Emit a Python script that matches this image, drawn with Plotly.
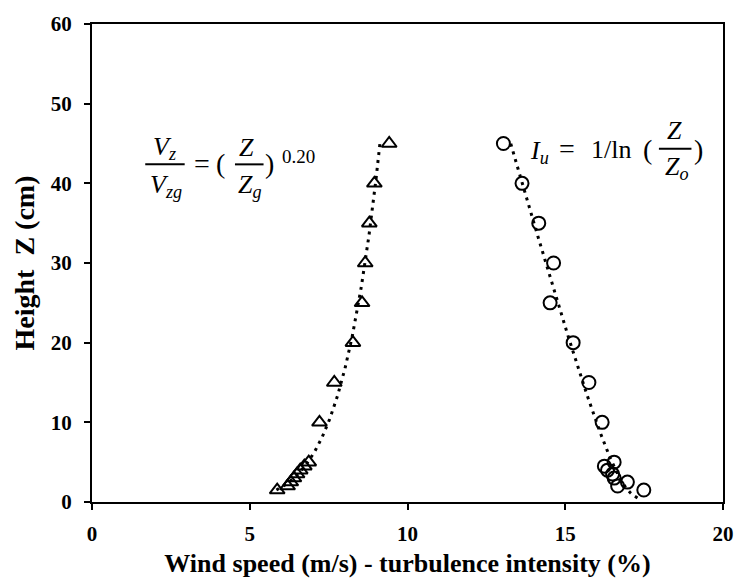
import numpy as np
import plotly.graph_objects as go

# ---- data ----
heights = [45, 40, 35, 30, 25, 20, 15, 10, 5, 4.5, 4, 3.5, 3, 2.5, 2, 1.5]
wind_speed = [9.42, 8.95, 8.79, 8.66, 8.56, 8.27, 7.68, 7.21, 6.87, 6.73, 6.60, 6.50, 6.40, 6.30, 6.20, 5.87]
turb_intensity = [13.04, 13.63, 14.16, 14.63, 14.52, 15.25, 15.75, 16.17, 16.55, 16.24, 16.34, 16.50, 16.55, 16.97, 16.66, 17.49]

x_ticks = [0, 5, 10, 15, 20]
y_ticks = [0, 10, 20, 30, 40, 50, 60]
ti_trend_z_bottom = 0.5  # intensity trendline is extended slightly below the lowest point

FONT = "Liberation Serif"

# ---- trendlines fitted from the data (as functions of height) ----
zz = np.array(heights, dtype=float)
ws = np.array(wind_speed)
ti = np.array(turb_intensity)

# power law: V = a * Z^b
b, a = np.polyfit(np.log(zz), np.log(ws), 1)
z_ws = np.linspace(zz.min(), zz.max(), 300)
ws_line = np.exp(a) * z_ws ** b

# turbulence intensity: I = c0 + c1*Z + c2*ln(Z)
A = np.column_stack([np.ones_like(zz), zz, np.log(zz)])
coef, *_ = np.linalg.lstsq(A, ti, rcond=None)
z_ti = np.linspace(ti_trend_z_bottom, zz.max(), 300)
ti_line = coef[0] + coef[1] * z_ti + coef[2] * np.log(z_ti)

fig = go.Figure()
dot_line = dict(color="black", width=3, dash="3px,5px")
fig.add_trace(go.Scatter(x=ws_line, y=z_ws, mode="lines", line=dot_line,
                         showlegend=False, hoverinfo="skip"))
fig.add_trace(go.Scatter(x=ti_line, y=z_ti, mode="lines", line=dot_line,
                         showlegend=False, hoverinfo="skip"))
fig.add_trace(go.Scatter(x=wind_speed, y=heights, mode="markers", name="Wind speed",
                         marker=dict(symbol="triangle-up-open", size=13, color="black",
                                     line=dict(width=2, color="black")),
                         showlegend=False))
fig.add_trace(go.Scatter(x=turb_intensity, y=heights, mode="markers", name="Turbulence intensity",
                         marker=dict(symbol="circle-open", size=13, color="black",
                                     line=dict(width=2, color="black")),
                         showlegend=False))

# ---- layout geometry ----
W, H = 746, 586
L, R, T, B = 92, 14, 15, 84
pw, ph = W - L - R, H - T - B
XR, YR = [0, 20], [0, 60]


def px2d(px, py):
    return (XR[0] + (px - L) / pw * (XR[1] - XR[0]),
            YR[0] + (T + ph - py) / ph * (YR[1] - YR[0]))


annos = []
shapes = []
EQ = 26


def text(px, py, s, size=EQ, xanchor="center"):
    x, y = px2d(px, py)
    annos.append(dict(x=x, y=y, xref="x", yref="y", text=s, showarrow=False,
                      xanchor=xanchor, yanchor="middle",
                      font=dict(family=FONT, size=size, color="black")))


def bar(px0, px1, py):
    x0, y0 = px2d(px0, py)
    x1, _ = px2d(px1, py)
    shapes.append(dict(type="line", xref="x", yref="y", x0=x0, x1=x1, y0=y0, y1=y0,
                       line=dict(color="black", width=2)))


# left equation: Vz/Vzg = (Z/Zg)^0.20
text(166, 141, "<i>V<sub>z</sub></i>")
bar(146, 186, 158)
text(167, 180, "<i>V<sub>zg</sub></i>")
text(204, 157, "=", size=28)
text(222, 157, "(", size=28)
text(249, 141, "<i>Z</i>")
bar(237, 266, 158)
text(252, 180, "<i>Z<sub>g</sub></i>")
text(272, 157, ")", size=28)
text(301, 150, "0.20", size=19)

# right equation: Iu = 1/ln(Z/Zo)
text(546, 145, "<i>I<sub>u</sub></i>")
text(574, 142, "=", size=28)
text(618, 143, "1/ln")
text(655, 143, "(", size=28)
text(683, 124, "<i>Z</i>")
bar(667, 700, 142)
text(685, 162, "<i>Z<sub>o</sub></i>")
text(707, 143, ")", size=28)

axis_common = dict(showgrid=False, zeroline=False, showline=True, linecolor="black",
                   linewidth=2, ticks="outside", ticklen=6, tickwidth=2, tickcolor="black",
                   mirror=True,
                   tickfont=dict(family=FONT, size=21, color="black", weight="bold"))

fig.update_layout(
    width=W, height=H,
    margin=dict(l=L, r=R, t=T, b=B),
    paper_bgcolor="white", plot_bgcolor="white",
    xaxis=dict(range=XR, tickvals=x_ticks, ticklabelstandoff=6,
               title=dict(text="Wind speed (m/s) - turbulence intensity (%)", standoff=9,
                          font=dict(family=FONT, size=26, color="black", weight="bold")),
               **axis_common),
    yaxis=dict(range=YR, tickvals=y_ticks, ticklabelstandoff=8,
               title=dict(text="Height  Z (cm)", standoff=8,
                          font=dict(family=FONT, size=28, color="black", weight="bold")),
               **axis_common),
    xaxis2=dict(range=XR, tickvals=x_ticks, overlaying="x", anchor="y", side="bottom",
                showgrid=False, zeroline=False, showline=False, ticks="inside", ticklen=6,
                tickwidth=2, tickcolor="black", showticklabels=False),
    yaxis2=dict(range=YR, tickvals=y_ticks, overlaying="y", anchor="x", side="left",
                showgrid=False, zeroline=False, showline=False, ticks="inside", ticklen=6,
                tickwidth=2, tickcolor="black", showticklabels=False),
    annotations=annos,
    shapes=shapes,
)

fig.write_html("out.html")
